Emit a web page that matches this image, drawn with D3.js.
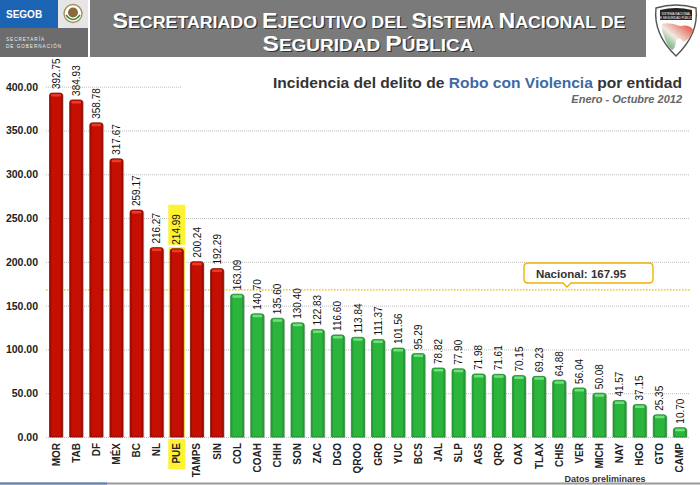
<!DOCTYPE html>
<html><head><meta charset="utf-8">
<script src="https://cdn.jsdelivr.net/npm/d3@7/dist/d3.min.js"></script>
<style>
html,body{margin:0;padding:0;background:#fff;}
svg{display:block;font-family:"Liberation Sans",Arial,Helvetica,sans-serif;}
</style></head>
<body>
<svg id="chart" width="700" height="485"></svg>
<script>
const categories = ["MOR","TAB","DF","MÉX","BC","NL","PUE","TAMPS","SIN","COL","COAH","CHIH","SON","ZAC","DGO","QROO","GRO","YUC","BCS","JAL","SLP","AGS","QRO","OAX","TLAX","CHIS","VER","MICH","NAY","HGO","GTO","CAMP"];
const values = [392.75,384.93,358.78,317.67,259.17,216.27,214.99,200.24,192.29,163.09,140.70,135.60,130.40,122.83,116.60,113.84,111.37,101.56,95.29,78.82,77.90,71.98,71.61,70.15,69.23,64.88,56.04,50.08,41.57,37.15,25.35,10.70];
const nationalValue = 167.95;
const highlighted = "PUE";
const yTicks = [0,50,100,150,200,250,300,350,400];
const headerLine1 = "Secretariado Ejecutivo del Sistema Nacional de";
const headerLine2 = "Seguridad Pública";

const svg = d3.select("#chart");
const x = d3.scaleBand().domain(categories).range([46,690]).paddingInner(0.35).paddingOuter(0.175);
const y = d3.scaleLinear().domain([0,400]).range([437,86.7]);

// grid
const grid = svg.append("g");
grid.selectAll("line").data(yTicks).join("line")
  .attr("x1",46).attr("x2",690)
  .attr("y1",d=>y(d)+0.5).attr("y2",d=>y(d)+0.5)
  .attr("stroke","#bdbdbd").attr("stroke-width",1).attr("stroke-dasharray","1,1");

// y axis labels
const yAxis = d3.axisLeft(y).tickValues(yTicks).tickFormat(d3.format(".2f")).tickSize(0).tickPadding(0);
const ya = svg.append("g").attr("transform","translate(38,0)").call(yAxis);
ya.select(".domain").remove();
ya.selectAll("text").attr("font-size",10.5).attr("font-weight","bold").attr("fill","#222")
  .attr("font-family","'Liberation Sans',Arial,sans-serif");

// chart title (white background hides the top gridline)
svg.append("rect").attr("x",181).attr("y",70).attr("width",519).attr("height",38).attr("fill","#fff");
const t = svg.append("text").attr("x",682).attr("y",88).attr("text-anchor","end")
  .attr("font-size",15).attr("font-weight","bold").attr("fill","#333")
  .attr("textLength",409).attr("lengthAdjust","spacingAndGlyphs");
t.append("tspan").text("Incidencia del delito de ");
t.append("tspan").attr("fill","#3d6aa6").text("Robo con Violencia");
t.append("tspan").text(" por entidad");
svg.append("text").attr("x",682).attr("y",103).attr("text-anchor","end")
  .attr("font-size",11).attr("font-weight","bold").attr("font-style","italic").attr("fill","#666")
  .text("Enero - Octubre 2012");

// highlight backgrounds
const hx = x(highlighted), bw = x.bandwidth();
const hv = values[categories.indexOf(highlighted)];
svg.append("rect").attr("x",hx-2).attr("y",y(hv)-44).attr("width",bw+4).attr("height",40).attr("fill","#fff233");
svg.append("rect").attr("x",hx-2).attr("y",439).attr("width",bw+4).attr("height",30).attr("fill","#fff233");
svg.append("rect").attr("x",hx-1.5).attr("y",y(hv)-1.5).attr("width",bw+3).attr("height",y(0)-y(hv)+2).attr("fill","#ffe81a");

// national line
svg.append("line").attr("x1",46).attr("x2",690).attr("y1",y(nationalValue)).attr("y2",y(nationalValue))
  .attr("stroke","#f2b800").attr("stroke-width",1.3).attr("stroke-dasharray","1.5,1.5");

// bars
const data = categories.map((c,i)=>({c, v:values[i], above: values[i] > nationalValue}));
const bars = svg.append("g");
function barPath(x0,w,yt,yb){
  const r = 2.5;
  return `M${x0},${yb}V${yt+r}Q${x0},${yt} ${x0+r},${yt}H${x0+w-r}Q${x0+w},${yt} ${x0+w},${yt+r}V${yb}Z`;
}
const g = bars.selectAll("g").data(data).join("g");
g.append("path").attr("d",d=>barPath(x(d.c)+1.2,bw,y(d.v)+0.5,y(0)+0.8)).attr("fill","#999").attr("opacity",0.45);
g.append("path").attr("d",d=>barPath(x(d.c),bw,y(d.v),y(0)))
  .attr("fill",d=>d.above?"#c40f02":"#2bb53d")
  .attr("stroke",d=>d.above?"#6e0800":"#187a26").attr("stroke-width",0.7);
g.append("rect").attr("x",d=>x(d.c)+1.5).attr("y",d=>y(d.v)+1).attr("width",bw-3).attr("height",2.5).attr("rx",1.2)
  .attr("fill",d=>d.above?"#ee3a22":"#6fe07a");
g.append("rect").attr("x",d=>x(d.c)+0.5).attr("y",d=>y(d.v)+1).attr("width",1.2).attr("height",d=>Math.max(0,y(0)-y(d.v)-1.5))
  .attr("fill",d=>d.above?"#8a0a00":"#1f8c2d").attr("opacity",0.6);
g.append("rect").attr("x",d=>x(d.c)+bw-1.7).attr("y",d=>y(d.v)+1).attr("width",1.2).attr("height",d=>Math.max(0,y(0)-y(d.v)-1.5))
  .attr("fill",d=>d.above?"#8a0a00":"#1f8c2d").attr("opacity",0.6);

// value labels
svg.append("g").selectAll("text").data(data).join("text")
  .attr("transform",d=>`translate(${x(d.c)+bw/2+3.6},${y(d.v)-4}) rotate(-90)`)
  .attr("font-size",10).attr("fill","#111").text(d=>d3.format(".2f")(d.v));

// category labels
const xAxis = d3.axisBottom(x).tickSize(0).tickPadding(0);
const xa = svg.append("g").attr("transform","translate(0,443)").call(xAxis);
xa.select(".domain").remove();
xa.selectAll("text").attr("transform","rotate(-90)").attr("text-anchor","end")
  .attr("x",0).attr("y",0).attr("dy","0.35em").attr("dx",0)
  .attr("font-size",10).attr("font-weight","bold").attr("fill","#222")
  .attr("font-family","'Liberation Sans',Arial,sans-serif");

// National callout
const nb = svg.append("g");
nb.append("path").attr("d","M528,263H649Q653,263 653,267V279Q653,283 649,283H571L567,287L563,283H528Q524,283 524,279V267Q524,263 528,263Z")
  .attr("fill","#fff").attr("stroke","#f0b400").attr("stroke-width",1.4);
nb.append("text").attr("x",581).attr("y",277.5).attr("text-anchor","middle").attr("font-size",11.5)
  .attr("font-weight","bold").attr("fill","#333").text("Nacional: " + d3.format(".2f")(nationalValue));

svg.append("text").attr("x",605).attr("y",482).attr("text-anchor","middle").attr("font-size",9)
  .attr("font-weight","bold").attr("fill","#333").text("Datos preliminares");

// bottom line
svg.append("rect").attr("x",0).attr("y",482.5).attr("width",700).attr("height",2).attr("fill","#9a9a9a");
svg.append("rect").attr("x",0).attr("y",482.5).attr("width",107).attr("height",2).attr("fill","#5b83c4");

// ===== header =====
const h = svg.append("g");
h.append("rect").attr("x",0).attr("y",0).attr("width",700).attr("height",58).attr("fill","#fff");
h.append("rect").attr("x",0).attr("y",0).attr("width",58).attr("height",28).attr("fill","#1b64b3");
h.append("rect").attr("x",58).attr("y",0).attr("width",30).attr("height",28).attr("fill","#e6e6e6");
h.append("rect").attr("x",0).attr("y",28).attr("width",88).attr("height",29).attr("fill","#6c6c6c");
h.append("text").attr("x",6).attr("y",17.5).attr("font-size",10).attr("font-weight","bold").attr("fill","#fff").text("SEGOB");
h.append("text").attr("x",6).attr("y",41).attr("font-size",4.6).attr("fill","#eee").attr("letter-spacing",1).text("SECRETARÍA");
h.append("text").attr("x",6).attr("y",48).attr("font-size",4.6).attr("fill","#eee").attr("letter-spacing",1).text("DE GOBERNACIÓN");
h.append("circle").attr("cx",73).attr("cy",13.5).attr("r",9).attr("fill","#fff").attr("stroke","#a88c5c").attr("stroke-width",1.4);
h.append("circle").attr("cx",73).attr("cy",12.5).attr("r",5).attr("fill","#8a6a3a");
h.append("path").attr("d","M66,15Q73,24 80,15").attr("fill","none").attr("stroke","#3a8a3a").attr("stroke-width",1.6);
h.append("rect").attr("x",90).attr("y",0).attr("width",556).attr("height",57).attr("fill","#7a7a7a");
// small caps: capital letters large, lowercase letters as small capitals
function smallCaps(sel, str){
  const runs = [];
  for (const ch of str) {
    const big = ch !== ch.toLowerCase();
    const last = runs[runs.length-1];
    if (last && last.big === big) last.s += ch; else runs.push({big, s: ch});
  }
  runs.forEach(r=>sel.append("tspan").attr("font-size", r.big?21.5:16.5).text(r.s.toUpperCase()));
}
[[headerLine1,28,369,513],[headerLine2,51,368,211]].forEach(([s,yy,cx,len])=>{
  [["#333",1.2],["#fff",0]].forEach(([col,off])=>{
    const tt = h.append("text").attr("x",cx+off).attr("y",yy+off).attr("text-anchor","middle")
      .attr("font-weight","bold").attr("fill",col).attr("textLength",len).attr("lengthAdjust","spacingAndGlyphs");
    smallCaps(tt, s);
  });
});
const sh = h.append("g");
sh.append("path").attr("d","M656,8Q676,2 696,8Q699,34 676,56Q653,34 656,8Z").attr("fill","#fff").attr("stroke","#555").attr("stroke-width",1.4);
sh.append("path").attr("d","M660,10Q676,6 692,10L692,20L660,20Z").attr("fill","#222");
sh.append("text").attr("x",676).attr("y",14.5).attr("text-anchor","middle").attr("font-size",3).attr("fill","#fff").text("SISTEMA NACIONAL");
sh.append("text").attr("x",676).attr("y",18.5).attr("text-anchor","middle").attr("font-size",3).attr("fill","#fff").text("DE SEGURIDAD PÚBLICA");
const defs = svg.append("defs");
const lg = defs.append("linearGradient").attr("id","mx").attr("x1","0").attr("x2","1").attr("y1","1").attr("y2","0");
lg.append("stop").attr("offset","0").attr("stop-color","#2a9a4a");
lg.append("stop").attr("offset","0.45").attr("stop-color","#f2e8e0");
lg.append("stop").attr("offset","1").attr("stop-color","#e0402a");
sh.append("path").attr("d","M662,24Q670,22 680,26Q690,24 693,30Q690,40 683,42Q680,36 676,40Q676,48 672,50Q666,44 664,36Q661,30 662,24Z").attr("fill","url(#mx)");
</script>
</body></html>
